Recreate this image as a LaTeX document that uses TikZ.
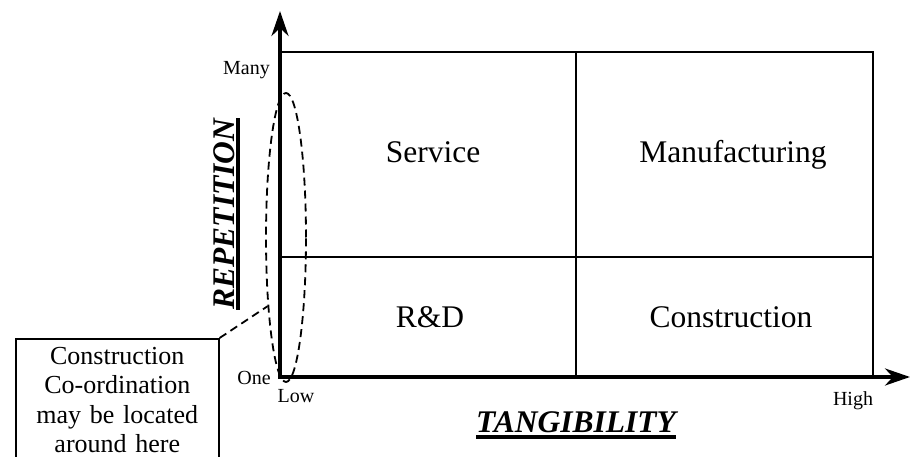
\documentclass[tikz,border=0pt]{standalone}
\usepackage{fontspec}
\setmainfont{Liberation Serif}
\usetikzlibrary{arrows.meta,shapes.geometric}
\begin{document}
\begin{tikzpicture}[x=1pt,y=-1pt,
  axisline/.style={line width=4pt, line join=miter,
    {Stealth[length=25pt,width=17pt]}-{Stealth[length=25pt,width=17pt]}},
  gridline/.style={line width=1.8pt},
  celltext/.style={font=\fontsize{31.5}{36}\selectfont, anchor=base, inner sep=0pt},
  ticklabel/.style={font=\fontsize{20}{24}\selectfont, inner sep=0pt},
  heading/.style={font=\fontsize{31.5}{36}\selectfont\bfseries\itshape, anchor=base, inner sep=0pt},
  underl/.style={line width=3.5pt},
  zonestyle/.style={draw, dash pattern=on 8pt off 5pt, line width=1.8pt, ellipse,
    inner sep=0pt, minimum width=40pt, minimum height=289pt},
  notebox/.style={draw, line width=1.6pt, anchor=north west, align=center,
    text width=183pt, inner xsep=10pt, inner ysep=8pt, font=\fontsize{26}{29.5}\selectfont},
  leader/.style={line width=1.8pt, dash pattern=on 8pt off 5pt}
]
\useasboundingbox (0,0) rectangle (911,457);

% frame of the matrix
\coordinate (O) at (280,377);
\coordinate (ytip) at (280,11);
\coordinate (xtip) at (910,377);
\coordinate (tl) at (280,52);
\coordinate (tr) at (873,52);
\coordinate (br) at (873,377);
\coordinate (tm) at (576,52);
\coordinate (bm) at (576,377);
\coordinate (ml) at (280,257);
\coordinate (mr) at (873,257);

\draw[gridline] (tl) -- (tr) -- (br);
\draw[gridline] (tm) -- (bm);
\draw[gridline] (ml) -- (mr);
\draw[axisline] (ytip) -- (O) -- (xtip);

% quadrant labels
\node[celltext] (service) at (433,163) {Service};
\node[celltext] (manuf) at (733,163) {Manufacturing};
\node[celltext] (rd) at (430,327) {R\&D};
\node[celltext] (constr) at (731,327) {Construction};

% axis end labels
\node[ticklabel, anchor=base east] (many) at (270,75) {Many};
\node[ticklabel, anchor=base east] (one) at (271,384) {One};
\node[ticklabel, anchor=base] (low) at (296,402) {Low};
\node[ticklabel, anchor=base] (high) at (853,405) {High};

% axis titles
\node[heading] (tang) at (576,432.5) {TANGIBILITY};
\draw[underl] ([yshift=-4.5pt]tang.base west) -- ([yshift=-4.5pt]tang.base east);
\node[heading, rotate=90] (rep) at (234,214) {REPETITION};
\draw[underl] ([xshift=4pt]rep.base west) -- ([xshift=4pt]rep.base east);

% coordination zone and its note
\node[zonestyle] (zone) at (286,237.5) {};
\node[notebox] (note) at (15,338) {Construction\\Co-ordination\\may be located\\around here};
\draw[leader] (note.north east) -- (zone.255);
\end{tikzpicture}
\end{document}
